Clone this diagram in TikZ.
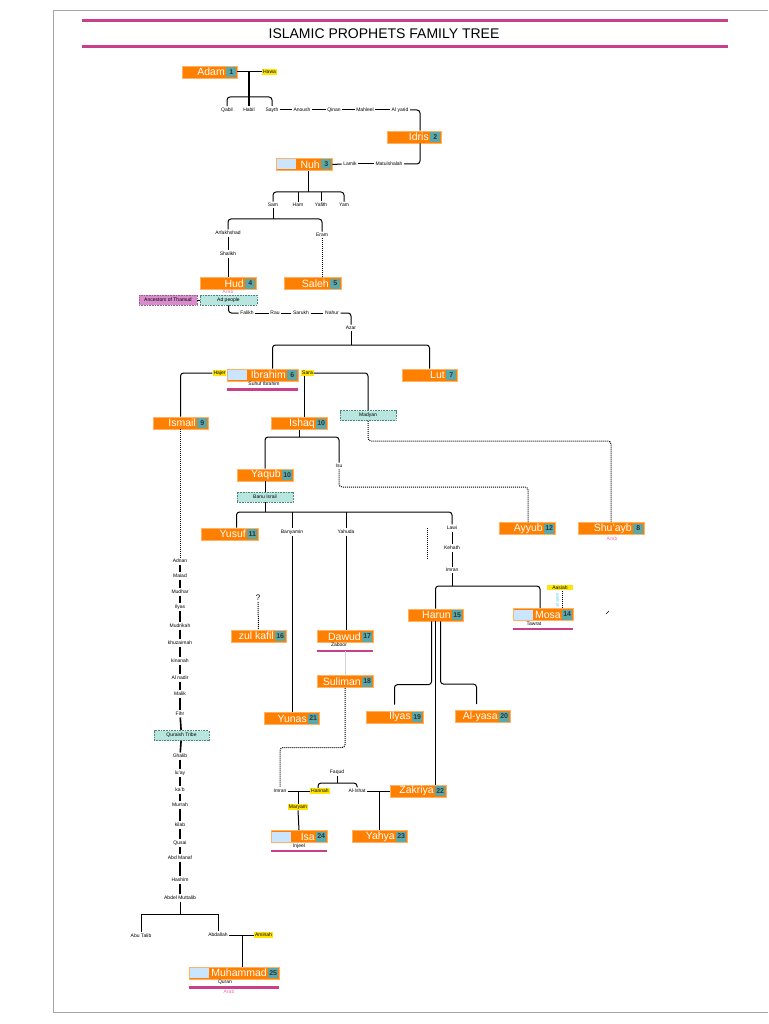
\documentclass[tikz,border=0pt]{standalone}
\usepackage{fontspec}
\setmainfont{Liberation Sans}
\definecolor{porange}{RGB}{255,128,0}
\definecolor{pedge}{RGB}{255,178,102}
\definecolor{pteal}{RGB}{92,168,168}
\definecolor{pblue}{RGB}{204,229,255}
\definecolor{pyellow}{RGB}{255,229,0}
\definecolor{pmint}{RGB}{184,230,222}
\definecolor{pplum}{RGB}{217,140,203}
\definecolor{pmag}{RGB}{200,64,138}
\definecolor{parab}{RGB}{240,112,160}

\begin{document}
\begin{tikzpicture}[
  x=1pt,
  y=-1pt,
  pbox/.style={rectangle, fill=porange, draw=pedge, line width=0.8pt, minimum height=12pt, inner sep=0pt},
  numbox/.style={rectangle, fill=pteal, minimum width=10pt, minimum height=10pt, inner sep=0pt, font=\fontsize{7}{7}\selectfont\bfseries, text=black!80},
  pname/.style={text=white, font=\fontsize{10.5}{10.5}\selectfont, inner sep=1pt},
  holder/.style={rectangle, fill=pblue, minimum width=19pt, minimum height=10pt, inner sep=0pt},
  lbl/.style={font=\fontsize{5}{5}\selectfont, inner sep=1.5pt},
  wife/.style={fill=pyellow, font=\fontsize{5}{5}\selectfont, inner sep=1pt},
  grp/.style={rectangle, fill=pmint, draw=pteal!80!black, dash pattern=on 1pt off 0.6pt, line width=0.8pt, minimum width=56pt, minimum height=10pt, inner sep=0pt, font=\fontsize{5}{5}\selectfont},
  book/.style={font=\fontsize{5}{5}\selectfont, inner sep=1pt},
  bookline/.style={draw=pmag, line width=2.2pt},
  arab/.style={text=parab, font=\fontsize{5}{5}\selectfont, inner sep=0.5pt},
  link/.style={line width=1pt},
  dotlink/.style={line width=1pt, dash pattern=on 1pt off 1pt},
  bigline/.style={line width=1.6pt}
]

% White background
\fill[white] (0,0) rectangle (768,1024);
\useasboundingbox (0,0) rectangle (768,1024);

% Page frame
\draw[gray!70, line width=0.8pt] (768,10) -- (53,10) -- (53,1012) -- (768,1012);

% Title
\draw[pmag, line width=3pt] (82,21) -- (728,21);
\draw[pmag, line width=3pt] (82,47) -- (728,47);
\node[font=\fontsize{14}{14}\selectfont] (title) at (384,34) {ISLAMIC PROPHETS FAMILY TREE};

% Prophets
\foreach \id/\x/\y/\w/\txt/\num in {
  adam/209.5/72/55/Adam/1,
  idris/414/137/54/Idris/2,
  nuh/304/164.5/56/Nuh/3,
  hud/228/283.5/56/Hud/4,
  saleh/312.5/283.5/57/Saleh/5,
  ibrahim/262.5/375/71/Ibrahim/6,
  lut/429.5/375/55/Lut/7,
  shuayb/611/528.5/66/Shu'ayb/8,
  ismail/180.5/423/55/Ismail/9,
  ishaq/299/423.5/56/Ishaq/10,
  yaqub/265/475/56/Yaqub/10,
  yusuf/229.5/534/57/Yusuf/11,
  ayyub/527/528.5/56/Ayyub/12,
  mosa/543/614.5/60/Mosa/14,
  harun/435.5/615/55/Harun/15,
  zulkafil/258.5/636/55/zul kafil/16,
  dawud/345/636.5/56/Dawud/17,
  suliman/345/681.5/56/Suliman/18,
  ilyas/394.5/717/57/Ilyas/19,
  alyasa/482.5/716.5/55/Al-yasa/20,
  yunas/291.5/718.5/55/Yunas/21,
  zakriya/418/791/56/Zakriya/22,
  yahya/379.5/836.5/55/Yahya/23,
  isa/299/836.5/56/Isa\hspace{7pt}/24,
  muhammad/234/973/90/Muhammad/25} {
  \node[pbox, minimum width=\w pt] (\id) at (\x,\y) {};
  \node[numbox, anchor=east] (\id-num) at ([xshift=-1pt]\id.east) {\num};
  \node[pname, anchor=east] (\id-txt) at (\id-num.west) {\txt};
}

% Blank picture slots
\foreach \id in {nuh,ibrahim,mosa,isa,muhammad} {
  \node[holder, anchor=west] (\id-hold) at ([xshift=1.5pt]\id.west) {};
}

% Names
\foreach \id/\x/\y/\txt in {
  qabil/227/110/Qabil, habil/249/110/Habil, sayth/272/110/Sayth,
  anoush/302/110/Anoush, qinan/334/110/Qinan, mahleel/365/110/Mahleel,
  alyarid/400/110/Al yarid, lamik/350/164/Lamik, matul/389/164/Matulshalah,
  sam/273/205/Sam, ham/298/205/Ham, yafith/321/205/Yafith, yam/344/205/Yam,
  arfak/228/233/Arfakhshad, shalikh/228/254/Shalikh, eram/322/235/Eram,
  falikh/247/313/Falikh, rau/275/313/Rau, sarukh/301/313/Sarukh,
  nahur/332/313/Nahur, azar/351/328/Azar, isu/339/466/Isu,
  banyamin/292/532/Banyamin, yahuda/346/532/Yahuda,
  lawi/452/528/Lawi, kehath/452/548/Kehath, imran/452/570/Imran,
  imranm/280/791/Imran, faqud/337/772/Faqud, alishat/357/791/Al-Ishat,
  abutalib/141/936/Abu Talib, abdallah/218/935/Abdallah} {
  \node[lbl] (\id) at (\x,\y) {\txt};
}

% Line of Ismail
\foreach \id/\y/\txt in {
  adnan/561/Adnan, maiad/576/Maiad, mudhar/592/Mudhar, ilyasq/607/Ilyas,
  mudrikah/626/Mudrikah, khuzaimah/643/khuzaimah, kinanah/661/kinanah,
  alnadir/678/Al nadir, malik/694/Malik, fihr/714/Fihr,
  ghalib/756/Ghalib, luay/773/lu'ay, kab/790/ka'b, murrah/805/Murrah,
  kilab/825/kilab, qusai/843/Qusai, abdmanaf/858/Abd Manaf,
  hashim/880/Hashim, abdelm/898/Abdel Muttalib} {
  \node[lbl] (\id) at (180,\y) {\txt};
}

% Wives
\foreach \id/\x/\y/\txt in {
  hawa/269.5/72/Hawa, hajer/219.5/373/Hajer, sara/307.5/373/Sara,
  hannah/320/791/Hannah, maryam/298/807/Maryam, aminah/263.5/935/Aminah} {
  \node[wife] (\id) at (\x,\y) {\txt};
}
\node[wife, minimum width=26pt] (aasiah) at (560,587.5) {Aasiah};
\node[font=\fontsize{4}{4}\selectfont, text=cyan!60, rotate=90, inner sep=0.5pt] (aasiahnote) at (557.5,600) {adopted};

% Peoples
\node[grp, minimum width=57pt] (adpeople) at (228.5,300) {Ad people};
\node[grp, fill=pplum, draw=pplum!70!black, minimum width=58pt] (thamud) at (168,300) {Ancestors of Thamud};
\node[grp] (madyan) at (368,415.5) {Madyan};
\node[grp] (banuisrail) at (265,497) {Banu Israil};
\node[grp, minimum width=55pt] (quraish) at (181.5,735.5) {Quraish Tribe};

% Books
\node[book] (suhuf) at (264,383.5) {Suhuf Ibrahim};
\node[book] (tawrat) at (534,623.5) {Tawrat};
\node[book] (zaboor) at (339,644.5) {Zaboor};
\node[book] (injeel) at (299,846) {Injeel};
\node[book] (quran) at (225,982) {Quran};
\foreach \id in {ibrahim,mosa,dawud,isa,muhammad} {
  \draw[bookline] ([yshift=-8pt]\id.south west) -- ([yshift=-8pt]\id.south east);
}
\node[arab] (hudarab) at (228,292) {Arab};
\node[arab] (shuaybarab) at (612,538.5) {Arab};
\node[arab] (muhammadarab) at (229,991.5) {Arab};

% Unknown origin
\node[font=\fontsize{8}{8}\selectfont, inner sep=1pt] (unknown) at (258,598) {?};

% Adam to Nuh
\coordinate (kids) at (249,97);
\draw[link] (adam.east) -- (hawa.west);
\draw[bigline] (habil |- adam.east) -- (habil.north);
\draw[link, rounded corners=3pt] (qabil.north) |- (kids) -| (sayth.north);
\foreach \a/\b in {sayth/anoush, anoush/qinan, qinan/mahleel, mahleel/alyarid, lamik/matul} {
  \draw[link] (\a) -- (\b);
}
\draw[link, rounded corners=3pt] (alyarid.east) -| ([xshift=6pt]idris.north);
\draw[link, rounded corners=3pt] ([xshift=6pt]idris.south) |- (matul.east);
\draw[link] (nuh.east) -- (lamik.west);

% Sons of Nuh
\coordinate (nuhkids) at (308,192);
\draw[link] (nuh.south -| nuhkids) -- (nuhkids);
\draw[link, rounded corners=3pt] (sam.north) |- (nuhkids) -| (yam.north);
\draw[link] (ham.north) -- (ham.north |- nuhkids);
\draw[link] (yafith.north) -- (yafith.north |- nuhkids);

% Sam
\coordinate (samkids) at (273,219);
\draw[link] (sam.south) -- (samkids);
\draw[link, rounded corners=3pt] (arfak.north) |- (samkids) -| (eram.north);
\draw[link] (arfak) -- (shalikh);
\draw[link] (shalikh) -- (hud.north);
\draw[dotlink] (eram.south) -- (eram.south |- saleh.north);
\draw[link] (thamud) -- (adpeople);
\draw[link, rounded corners=3pt] (adpeople.south) |- (falikh.west);
\foreach \a/\b in {falikh/rau, rau/sarukh, sarukh/nahur} {
  \draw[link] (\a) -- (\b);
}
\draw[link, rounded corners=3pt] (nahur.east) -| (azar.north);

% Azar
\coordinate (azarkids) at (351,345);
\draw[link] (azar.south) -- (azarkids);
\draw[link, rounded corners=3pt] ([xshift=10pt]ibrahim.north) |- (azarkids) -| (lut.north);

% Ibrahim
\draw[link, rounded corners=3pt] (hajer.west) -| (ismail.north);
\draw[link] ([xshift=-3pt]sara.south) -- ([xshift=-3pt]sara.south |- ishaq.north);
\draw[link, rounded corners=3pt] (sara.east) -| (madyan.north);
\coordinate (shuaybrow) at (611,441);
\draw[dotlink, rounded corners=3pt] (madyan.south) |- (shuaybrow) -- (shuayb.north);
\draw[dotlink] (ismail.south) -- (ismail.south |- adnan.north);

% Ishaq
\coordinate (ishaqkids) at (299,437);
\draw[link] (ishaq.south) -- (ishaqkids);
\draw[link, rounded corners=3pt] (yaqub.north) |- (ishaqkids) -| (isu.north);
\coordinate (ayyubrow) at (528,487);
\draw[dotlink, rounded corners=3pt] (isu.south) |- (ayyubrow) -- (ayyub.north -| ayyubrow);

% Yaqub
\draw[link] (yaqub.south) -- (banuisrail.north);
\coordinate (israilkids) at (265,512);
\draw[link] (banuisrail.south) -- (israilkids);
\draw[link, rounded corners=3pt] ([xshift=7pt]yusuf.north) |- (israilkids) -| (lawi.north);
\draw[link] (banyamin.north) -- (banyamin.north |- israilkids);
\draw[link] (yahuda.north) -- (yahuda.north |- israilkids);
\draw[link] (banyamin.south) -- (banyamin.south |- yunas.north);
\draw[link] (yahuda.south) -- (yahuda.south |- dawud.north);
\coordinate (stubtop) at (427,528);
\coordinate (stubbot) at (427,560);
\draw[dotlink] (stubtop) -- (stubbot);

% Lawi to Musa
\draw[link] (lawi) -- (kehath);
\draw[link] (kehath) -- (imran);
\coordinate (imrankids) at (452,586);
\draw[link] (imran.south) -- (imrankids);
\draw[link, rounded corners=3pt] (harun.north) |- (imrankids) -| ([xshift=-3pt]mosa.north);
\draw[dotlink] ([xshift=2pt]aasiah.south) -- ([xshift=2pt]aasiah.south |- mosa.north);
\coordinate (markA) at (606,614);
\coordinate (markB) at (609,611);
\draw[line width=0.6pt] (markA) -- (markB);

% Harun
\draw[link, rounded corners=3pt] ([xshift=-4pt]harun.south) |- ([yshift=26pt]ilyas.north) -- ([yshift=6pt]ilyas.north);
\draw[link, rounded corners=3pt] ([xshift=5pt]harun.south) |- ([xshift=-6pt, yshift=26pt]alyasa.north) -- ([xshift=-6pt, yshift=6pt]alyasa.north);
\draw[link] (harun.south) -- (harun.south |- zakriya.north);

% Dawud to Isa
\draw[dotlink] (unknown.south) -- (zulkafil.north);
\draw[gray!35, line width=1pt] ([yshift=-8pt]dawud.south) -- (suliman.north);
\draw[dotlink, rounded corners=3pt] (suliman.south) |- ([yshift=40pt]imranm.north) -- (imranm.north);
\draw[link] (imranm) -- (hannah);
\draw[link] (maryam.north) -- (maryam.north |- imranm);
\draw[link] (maryam.south) -- (isa.north);
\coordinate (faqudkids) at (337,783);
\draw[link] (faqud.south) -- (faqudkids);
\draw[link, rounded corners=3pt] ([xshift=-2pt]hannah.north) |- (faqudkids) -| (alishat.north);
\draw[link] (alishat) -- (zakriya.west);
\draw[link] (yahya.north) -- (yahya.north |- alishat.east);

% Quraish line
\foreach \a/\b in {adnan/maiad, maiad/mudhar, mudhar/ilyasq, ilyasq/mudrikah,
  mudrikah/khuzaimah, khuzaimah/kinanah, kinanah/alnadir, alnadir/malik,
  malik/fihr, fihr/quraish, quraish/ghalib, ghalib/luay, luay/kab, kab/murrah,
  murrah/kilab, kilab/qusai, qusai/abdmanaf, abdmanaf/hashim, hashim/abdelm} {
  \draw[bigline] (\a) -- (\b);
}

% Abdel Muttalib
\coordinate (abdelmkids) at (180,914);
\draw[link] (abdelm.south) -- (abdelmkids);
\draw[link] (abutalib.north) |- (abdelmkids) -| (abdallah.north);
\draw[link] (abdallah) -- (aminah);
\draw[link] ([xshift=8pt]muhammad.north) -- ([xshift=8pt]muhammad.north |- aminah.west);

\end{tikzpicture}
\end{document}
